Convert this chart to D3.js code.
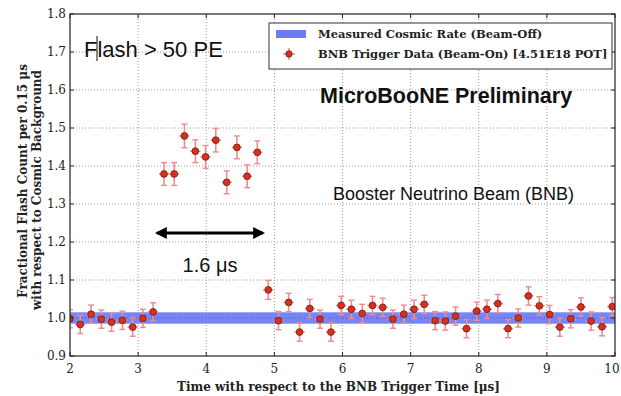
<!DOCTYPE html>
<html>
<head>
<meta charset="utf-8">
<script src="https://cdn.jsdelivr.net/npm/d3@7"></script>
<style>
  body { margin: 0; background: #fff; }
  svg { display: block; }
</style>
</head>
<body>
<div id="chart"></div>
<script>
// bin centres [us], flash ratio and its error
const times = [2.00, 2.15, 2.31, 2.46, 2.61, 2.77, 2.92, 3.07, 3.22, 3.38,
  3.53, 3.68, 3.84, 3.99, 4.14, 4.30, 4.45, 4.60, 4.75, 4.91,
  5.06, 5.21, 5.37, 5.52, 5.67, 5.83, 5.98, 6.13, 6.29, 6.44,
  6.59, 6.74, 6.90, 7.05, 7.20, 7.36, 7.51, 7.66, 7.82, 7.97,
  8.12, 8.28, 8.43, 8.58, 8.73, 8.89, 9.04, 9.19, 9.35, 9.50,
  9.65, 9.81, 9.96];
const ratio = [0.998, 0.983, 1.010, 0.997, 0.989, 0.994, 0.976, 0.999, 1.016, 1.379,
  1.379, 1.479, 1.439, 1.424, 1.468, 1.357, 1.449, 1.373, 1.436, 1.074,
  0.993, 1.041, 0.963, 1.025, 0.997, 0.963, 1.033, 1.023, 1.012, 1.033,
  1.028, 0.997, 1.010, 1.023, 1.036, 0.993, 0.992, 1.005, 0.972, 1.018,
  1.023, 1.038, 0.972, 1.000, 1.058, 1.032, 1.009, 0.976, 0.998, 1.029,
  0.992, 0.977, 1.030];
const errs = [0.024, 0.024, 0.024, 0.024, 0.024, 0.024, 0.024, 0.024, 0.024, 0.030,
  0.030, 0.031, 0.030, 0.030, 0.031, 0.030, 0.030, 0.030, 0.030, 0.025,
  0.024, 0.024, 0.024, 0.024, 0.024, 0.024, 0.024, 0.024, 0.024, 0.024,
  0.024, 0.024, 0.024, 0.024, 0.024, 0.024, 0.024, 0.024, 0.024, 0.024,
  0.024, 0.024, 0.024, 0.024, 0.024, 0.024, 0.024, 0.024, 0.024, 0.024,
  0.024, 0.024, 0.024];
const binWidth = 0.15;

// cosmic (beam-off) band
const cosmicRate = 1.0;
const cosmicErr = 0.015;

const xTicks = [2, 3, 4, 5, 6, 7, 8, 9, 10];
const yTicks = [0.9, 1.0, 1.1, 1.2, 1.3, 1.4, 1.5, 1.6, 1.7, 1.8];

// signal window arrow
const windowStart = 3.28;
const windowEnd = 4.83;

const W = 621, H = 396;
const margin = { top: 14, right: 6, bottom: 40, left: 70 };

const svg = d3.select("#chart").append("svg")
  .attr("width", W)
  .attr("height", H);

const x = d3.scaleLinear().domain([2, 10]).range([margin.left, W - margin.right]);
const y = d3.scaleLinear().domain([0.9, 1.8]).range([H - margin.bottom, margin.top]);

const serif = "'DejaVu Serif', serif";
const sans = "'Liberation Sans', Arial, sans-serif";

svg.append("defs").append("clipPath").attr("id", "plot-clip")
  .append("rect")
  .attr("x", x(2)).attr("y", y(1.8))
  .attr("width", x(10) - x(2)).attr("height", y(0.9) - y(1.8));

// grid
const grid = svg.append("g");
grid.selectAll("line.gx").data(xTicks.slice(1, -1)).enter().append("line")
  .attr("x1", d => x(d)).attr("x2", d => x(d))
  .attr("y1", y(0.9)).attr("y2", y(1.8))
  .attr("stroke", "#9a9a9a").attr("stroke-width", 1).attr("stroke-dasharray", "1,2");
grid.selectAll("line.gy").data(yTicks.slice(1, -1)).enter().append("line")
  .attr("x1", x(2)).attr("x2", x(10))
  .attr("y1", d => y(d)).attr("y2", d => y(d))
  .attr("stroke", "#9a9a9a").attr("stroke-width", 1).attr("stroke-dasharray", "1,2");

const plot = svg.append("g").attr("clip-path", "url(#plot-clip)");

// beam-off band
plot.append("rect")
  .attr("x", x(2)).attr("width", x(10) - x(2))
  .attr("y", y(cosmicRate + cosmicErr))
  .attr("height", y(cosmicRate - cosmicErr) - y(cosmicRate + cosmicErr))
  .attr("fill", "#6a7cf6").attr("opacity", 0.92);
plot.append("line")
  .attr("x1", x(2)).attr("x2", x(10))
  .attr("y1", y(1.0)).attr("y2", y(1.0))
  .attr("stroke", "#5a5aa8").attr("stroke-width", 1).attr("stroke-dasharray", "1,2");

// data points with error bars
const data = times.map((t, i) => ({ t, v: ratio[i], e: errs[i] }));
const pts = plot.selectAll("g.pt").data(data).enter().append("g").attr("class", "pt");
const barColor = "#f08c8c";
pts.append("line")
  .attr("x1", d => x(d.t)).attr("x2", d => x(d.t))
  .attr("y1", d => y(d.v - d.e)).attr("y2", d => y(d.v + d.e))
  .attr("stroke", barColor).attr("stroke-width", 1.6);
pts.append("line")
  .attr("x1", d => x(d.t - binWidth / 2)).attr("x2", d => x(d.t + binWidth / 2))
  .attr("y1", d => y(d.v)).attr("y2", d => y(d.v))
  .attr("stroke", barColor).attr("stroke-width", 1.6);
[1, -1].forEach(s => {
  pts.append("line")
    .attr("x1", d => x(d.t) - 3).attr("x2", d => x(d.t) + 3)
    .attr("y1", d => y(d.v + s * d.e)).attr("y2", d => y(d.v + s * d.e))
    .attr("stroke", barColor).attr("stroke-width", 1.4);
});
pts.append("circle")
  .attr("cx", d => x(d.t)).attr("cy", d => y(d.v))
  .attr("r", 3.4)
  .attr("fill", "#d8301e").attr("stroke", "#6e1a12").attr("stroke-width", 0.8);

// frame and ticks
svg.append("rect")
  .attr("x", x(2)).attr("y", y(1.8))
  .attr("width", x(10) - x(2)).attr("height", y(0.9) - y(1.8))
  .attr("fill", "none").attr("stroke", "#222").attr("stroke-width", 1.2);

const ticks = svg.append("g").attr("stroke", "#222").attr("stroke-width", 1);
xTicks.forEach(t => {
  ticks.append("line").attr("x1", x(t)).attr("x2", x(t)).attr("y1", y(0.9)).attr("y2", y(0.9) - 4);
  ticks.append("line").attr("x1", x(t)).attr("x2", x(t)).attr("y1", y(1.8)).attr("y2", y(1.8) + 4);
});
yTicks.forEach(t => {
  ticks.append("line").attr("x1", x(2)).attr("x2", x(2) + 4).attr("y1", y(t)).attr("y2", y(t));
  ticks.append("line").attr("x1", x(10)).attr("x2", x(10) - 4).attr("y1", y(t)).attr("y2", y(t));
});

// keep the last x label inside the page
svg.append("g").selectAll("text").data(xTicks).enter().append("text")
  .attr("x", d => Math.min(x(d), W - 9)).attr("y", y(0.9) + 17)
  .attr("text-anchor", "middle")
  .attr("font-family", serif).attr("font-size", 12).attr("fill", "#222")
  .text(d => d);
svg.append("g").selectAll("text").data(yTicks).enter().append("text")
  .attr("x", x(2) - 4).attr("y", d => y(d) + 4)
  .attr("text-anchor", "end")
  .attr("font-family", serif).attr("font-size", 12).attr("fill", "#222")
  .text(d => d.toFixed(1));

// axis titles
svg.append("text")
  .attr("x", (x(2) + x(10)) / 2 - 4).attr("y", H - 5)
  .attr("text-anchor", "middle")
  .attr("font-family", serif).attr("font-size", 12).attr("font-weight", "bold").attr("fill", "#222")
  .text("Time with respect to the BNB Trigger Time [\u03bcs]");
svg.append("text")
  .attr("transform", "translate(27,181) rotate(-90)")
  .attr("text-anchor", "middle")
  .attr("font-family", serif).attr("font-size", 12).attr("font-weight", "bold").attr("fill", "#222")
  .text("Fractional Flash Count per 0.15 \u03bcs");
svg.append("text")
  .attr("transform", "translate(41,190) rotate(-90)")
  .attr("text-anchor", "middle")
  .attr("font-family", serif).attr("font-size", 12).attr("font-weight", "bold").attr("fill", "#222")
  .text("with respect to Cosmic Background");

// legend
const lg = svg.append("g");
lg.append("rect").attr("x", 269).attr("y", 23).attr("width", 343).attr("height", 46)
  .attr("fill", "#fff").attr("stroke", "#333").attr("stroke-width", 1);
lg.append("rect").attr("x", 276).attr("y", 30).attr("width", 30).attr("height", 8)
  .attr("fill", "#6a7cf6");
lg.append("line").attr("x1", 289).attr("x2", 289).attr("y1", 48).attr("y2", 60)
  .attr("stroke", barColor).attr("stroke-width", 1.6);
lg.append("line").attr("x1", 283).attr("x2", 295).attr("y1", 54).attr("y2", 54)
  .attr("stroke", barColor).attr("stroke-width", 1.6);
lg.append("circle").attr("cx", 289).attr("cy", 54).attr("r", 3.2)
  .attr("fill", "#d8301e").attr("stroke", "#6e1a12").attr("stroke-width", 0.8);
lg.append("text").attr("x", 318).attr("y", 38)
  .attr("font-family", serif).attr("font-size", 11.5).attr("font-weight", "bold").attr("fill", "#222")
  .text("Measured Cosmic Rate (Beam-Off)");
lg.append("text").attr("x", 318).attr("y", 58)
  .attr("font-family", serif).attr("font-size", 11.5).attr("font-weight", "bold").attr("fill", "#222")
  .text("BNB Trigger Data (Beam-On) [4.51E18 POT]");

// annotations
svg.append("text").attr("x", 84).attr("y", 57)
  .attr("font-family", sans).attr("font-size", 22).attr("fill", "#111")
  .text("Flash > 50 PE");
svg.append("line").attr("x1", 97).attr("x2", 97).attr("y1", 36).attr("y2", 61)
  .attr("stroke", "#111").attr("stroke-width", 1);
svg.append("text").attr("x", 320).attr("y", 103)
  .attr("font-family", sans).attr("font-size", 21.5).attr("font-weight", "bold").attr("fill", "#111")
  .text("MicroBooNE Preliminary");
svg.append("text").attr("x", 333).attr("y", 200)
  .attr("font-family", sans).attr("font-size", 18).attr("fill", "#111")
  .text("Booster Neutrino Beam (BNB)");

const defs = svg.select("defs");
defs.append("marker").attr("id", "ah")
  .attr("viewBox", "0 0 10 10").attr("refX", 8).attr("refY", 5)
  .attr("markerWidth", 4).attr("markerHeight", 4).attr("orient", "auto-start-reverse")
  .append("path").attr("d", "M0,0 L10,5 L0,10 Z").attr("fill", "#000");
svg.append("line")
  .attr("x1", x(windowStart)).attr("x2", x(windowEnd))
  .attr("y1", 233).attr("y2", 233)
  .attr("stroke", "#000").attr("stroke-width", 3)
  .attr("marker-start", "url(#ah)").attr("marker-end", "url(#ah)");
svg.append("text").attr("x", (x(windowStart) + x(windowEnd)) / 2).attr("y", 272)
  .attr("text-anchor", "middle")
  .attr("font-family", sans).attr("font-size", 20).attr("fill", "#111")
  .text("1.6 \u03bcs");
</script>
</body>
</html>
